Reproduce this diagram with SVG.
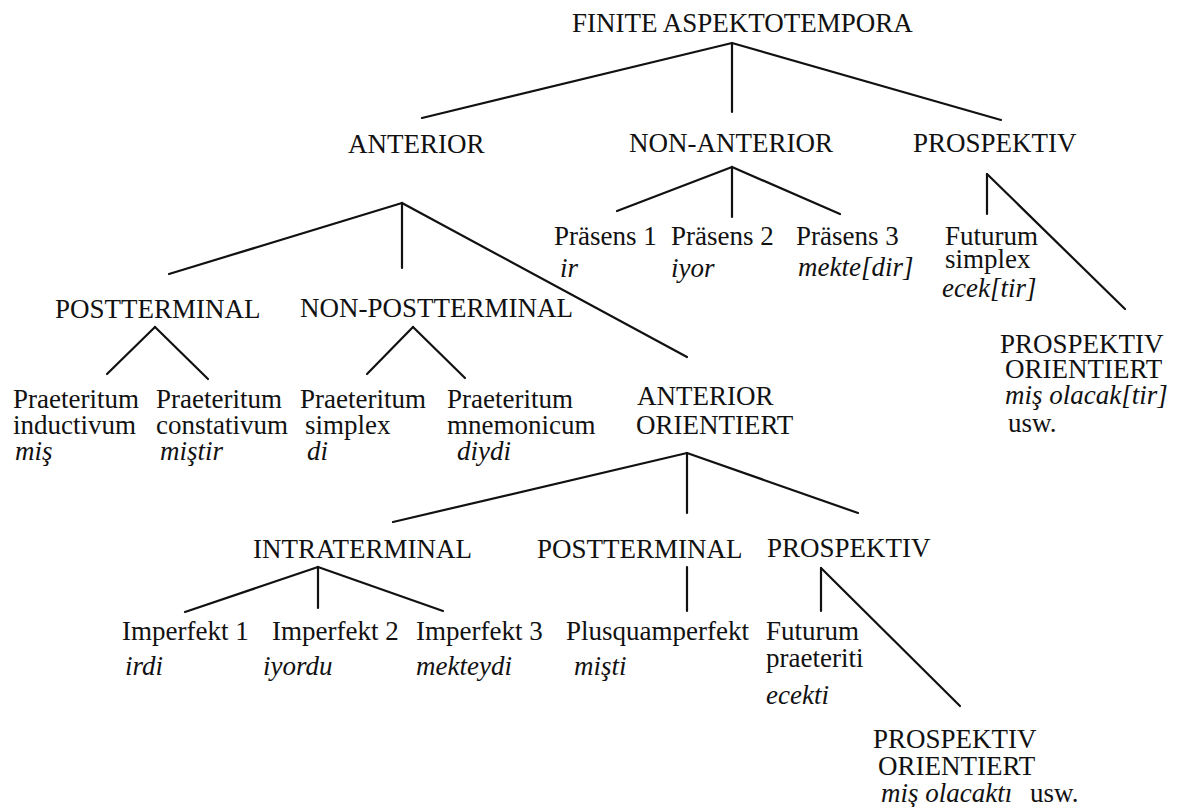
<svg xmlns="http://www.w3.org/2000/svg" width="1182" height="807" viewBox="0 0 1182 807">
<style>
text{font-family:"Liberation Serif","Times New Roman",serif;font-size:27px;fill:#111}
.i{font-style:italic}
#connectors line{stroke:#111;stroke-width:2.2;stroke-linecap:round}
</style>
<rect width="1182" height="807" fill="#fff"/>
<g id="connectors">
<line x1="732" y1="43" x2="422" y2="118"/>
<line x1="732" y1="43" x2="732" y2="112"/>
<line x1="732" y1="43" x2="1001" y2="120"/>
<line x1="402" y1="203" x2="169" y2="274"/>
<line x1="402" y1="203" x2="402" y2="268"/>
<line x1="402" y1="203" x2="687" y2="357"/>
<line x1="155" y1="327" x2="107" y2="374"/>
<line x1="155" y1="327" x2="208" y2="379"/>
<line x1="413" y1="327" x2="367" y2="374"/>
<line x1="413" y1="327" x2="465" y2="378"/>
<line x1="732" y1="167" x2="617" y2="211"/>
<line x1="732" y1="167" x2="732" y2="217"/>
<line x1="732" y1="167" x2="840" y2="214"/>
<line x1="987" y1="174" x2="987" y2="214"/>
<line x1="987" y1="174" x2="1125" y2="309"/>
<line x1="687" y1="453" x2="393" y2="522"/>
<line x1="687" y1="453" x2="687" y2="513"/>
<line x1="687" y1="453" x2="858" y2="513"/>
<line x1="318" y1="567" x2="185" y2="612"/>
<line x1="318" y1="567" x2="318" y2="608"/>
<line x1="318" y1="567" x2="443" y2="611"/>
<line x1="687" y1="567" x2="687" y2="611"/>
<line x1="821" y1="568" x2="821" y2="611"/>
<line x1="821" y1="568" x2="960" y2="706"/>
</g>
<g id="root"><text x="572" y="32">FINITE ASPEKTOTEMPORA</text></g>
<g id="anterior"><text x="348" y="153">ANTERIOR</text></g>
<g id="non-anterior"><text x="629" y="152">NON-ANTERIOR</text></g>
<g id="prospektiv"><text x="913" y="152">PROSPEKTIV</text></g>
<g id="postterminal"><text x="55" y="318">POSTTERMINAL</text></g>
<g id="non-postterminal"><text x="300" y="317">NON-POSTTERMINAL</text></g>
<g id="praesens1"><text x="554" y="245">Präsens 1</text><text class="i" x="560" y="277">ir</text></g>
<g id="praesens2"><text x="671" y="245">Präsens 2</text><text class="i" x="671" y="277">iyor</text></g>
<g id="praesens3"><text x="796" y="245">Präsens 3</text><text class="i" x="798" y="276">mekte[dir]</text></g>
<g id="futurum-simplex"><text x="945" y="245">Futurum</text><text x="945" y="268">simplex</text><text class="i" x="942" y="297">ecek[tir]</text></g>
<g id="prospektiv-orientiert-1"><text x="1000" y="353">PROSPEKTIV</text><text x="1005" y="378">ORIENTIERT</text><text class="i" x="1005" y="404">miş olacak[tir]</text><text x="1008" y="432">usw.</text></g>
<g id="praet-inductivum"><text x="13" y="408">Praeteritum</text><text x="13" y="434">inductivum</text><text class="i" x="15" y="460">miş</text></g>
<g id="praet-constativum"><text x="156" y="408">Praeteritum</text><text x="156" y="434">constativum</text><text class="i" x="160" y="460">miştir</text></g>
<g id="praet-simplex"><text x="300" y="408">Praeteritum</text><text x="305" y="434">simplex</text><text class="i" x="307" y="460">di</text></g>
<g id="praet-mnemonicum"><text x="447" y="408">Praeteritum</text><text x="447" y="434">mnemonicum</text><text class="i" x="457" y="460">diydi</text></g>
<g id="anterior-orientiert"><text x="637" y="405">ANTERIOR</text><text x="636" y="434">ORIENTIERT</text></g>
<g id="intraterminal"><text x="253" y="558">INTRATERMINAL</text></g>
<g id="postterminal-2"><text x="537" y="558">POSTTERMINAL</text></g>
<g id="prospektiv-2"><text x="767" y="557">PROSPEKTIV</text></g>
<g id="imperfekt1"><text x="122" y="640">Imperfekt 1</text><text class="i" x="125" y="675">irdi</text></g>
<g id="imperfekt2"><text x="272" y="640">Imperfekt 2</text><text class="i" x="263" y="675">iyordu</text></g>
<g id="imperfekt3"><text x="416" y="640">Imperfekt 3</text><text class="i" x="416" y="675">mekteydi</text></g>
<g id="plusquamperfekt"><text x="566" y="640">Plusquamperfekt</text><text class="i" x="574" y="675">mişti</text></g>
<g id="futurum-praeteriti"><text x="766" y="640">Futurum</text><text x="766" y="667">praeteriti</text><text class="i" x="766" y="704">ecekti</text></g>
<g id="prospektiv-orientiert-2"><text x="873" y="748">PROSPEKTIV</text><text x="878" y="775">ORIENTIERT</text><text class="i" x="881" y="802">miş olacaktı</text><text x="1030" y="802">usw.</text></g>
</svg>
